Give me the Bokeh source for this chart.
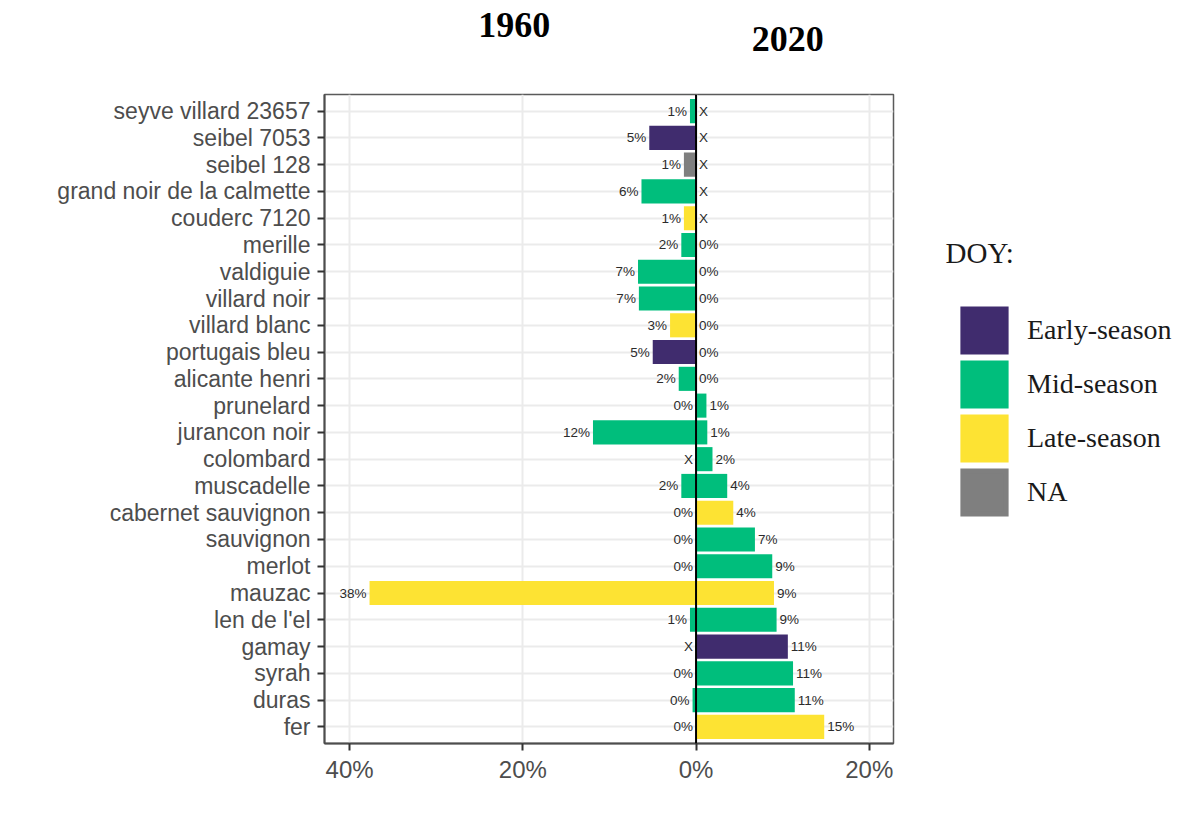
from bokeh.plotting import figure
from bokeh.layouts import column, row
from bokeh.models import (ColumnDataSource, FactorRange, Range1d, FixedTicker, Span,
                          CustomJSTickFormatter)
from bokeh.embed import file_html
from bokeh.resources import INLINE
from bokeh.core.properties import value

# ---------------- data ----------------
varieties = ["seyve villard 23657", "seibel 7053", "seibel 128", "grand noir de la calmette",
             "couderc 7120", "merille", "valdiguie", "villard noir", "villard blanc",
             "portugais bleu", "alicante henri", "prunelard", "jurancon noir", "colombard",
             "muscadelle", "cabernet sauvignon", "sauvignon", "merlot", "mauzac",
             "len de l'el", "gamay", "syrah", "duras", "fer"]
doy = ["Mid-season", "Early-season", "NA", "Mid-season", "Late-season", "Mid-season",
       "Mid-season", "Mid-season", "Late-season", "Early-season", "Mid-season", "Mid-season",
       "Mid-season", "Mid-season", "Mid-season", "Late-season", "Mid-season", "Mid-season",
       "Late-season", "Mid-season", "Early-season", "Mid-season", "Mid-season", "Late-season"]
share_1960 = [0.7, 5.4, 1.4, 6.3, 1.4, 1.7, 6.7, 6.6, 3.0, 5.0, 2.0, 0.0, 11.9, None,
              1.7, 0.0, 0.0, 0.0, 37.7, 0.7, None, 0.0, 0.4, 0.0]
share_2020 = [None, None, None, None, None, 0.0, 0.0, 0.0, 0.0, 0.0, 0.0, 1.2, 1.3, 1.9,
              3.6, 4.3, 6.8, 8.8, 9.0, 9.3, 10.6, 11.2, 11.4, 14.8]
doy_classes = ["Early-season", "Mid-season", "Late-season", "NA"]
doy_colors = ["#402C6E", "#00BE7C", "#FDE333", "#7F7F7F"]
x_ticks = [-40, -20, 0, 20]
years = ["1960", "2020"]
year_x = [-21.0, 10.6]          # centre of each year heading, in axis units

# ---------------- derived columns ----------------
nan = float("nan")
cmap = dict(zip(doy_classes, doy_colors))
src = ColumnDataSource(dict(
    variety=varieties,
    doy=doy,
    color=[cmap[d] for d in doy],
    left60=[-v if v is not None else nan for v in share_1960],
    right20=[v if v is not None else nan for v in share_2020],
    lab60=[f"{round(v)}%" if v is not None else "X" for v in share_1960],
    lab20=[f"{round(v)}%" if v is not None else "X" for v in share_2020],
    lx60=[-v if v is not None else 0.0 for v in share_1960],
    lx20=[v if v is not None else 0.0 for v in share_2020],
))

FL, FW, FH = 324, 569, 649      # frame left, width, height
TOP_H = 92
BT, BB = 2, 60
P_H = BT + FH + BB
TOTAL_W = 1174

# ---------------- main panel ----------------
p = figure(y_range=FactorRange(factors=varieties[::-1], range_padding=0.12,
                               range_padding_units="absolute"),
           x_range=Range1d(-42.9, 22.8),
           width=FL + FW + 2, height=P_H, min_border=0,
           min_border_left=FL, min_border_right=2, min_border_top=BT, min_border_bottom=BB,
           output_backend="svg", toolbar_location=None)

bars60 = p.hbar(y="variety", left="left60", right=0, height=0.9, fill_color="color",
                line_color=None, source=src)
p.hbar(y="variety", left=0, right="right20", height=0.9, fill_color="color",
       line_color=None, source=src)

p.add_layout(Span(location=0, dimension="height", line_color="black", line_width=2))

p.text(x="lx60", y="variety", text="lab60", source=src, text_align="right",
       text_baseline="middle", x_offset=-3, text_font=value("Liberation Sans"),
       text_font_size="13.5px", text_color="#2B2B2B")
p.text(x="lx20", y="variety", text="lab20", source=src, text_align="left",
       text_baseline="middle", x_offset=3, text_font=value("Liberation Sans"),
       text_font_size="13.5px", text_color="#2B2B2B")

p.xaxis.ticker = FixedTicker(ticks=x_ticks)
p.xaxis.formatter = CustomJSTickFormatter(code="return Math.abs(tick) + '%';")
p.xgrid.ticker = FixedTicker(ticks=x_ticks)
for ax in (p.xaxis, p.yaxis):
    ax.major_label_text_font = "Liberation Sans"
    ax.major_label_text_color = "#4D4D4D"
    ax.axis_line_color = "#4D4D4D"
    ax.axis_line_width = 2
    ax.major_tick_line_color = "#333333"
    ax.major_tick_line_width = 2
    ax.major_tick_out = 7
    ax.major_tick_in = 0
    ax.minor_tick_line_color = None
p.yaxis.major_label_text_font_size = "23px"
p.xaxis.major_label_text_font_size = "24px"
p.yaxis.major_label_standoff = 7
p.xaxis.major_label_standoff = 5
p.xgrid.grid_line_color = "#EBEBEB"
p.ygrid.grid_line_color = "#EBEBEB"
p.xgrid.grid_line_width = 2
p.ygrid.grid_line_width = 2
p.outline_line_color = "#5A5A5A"
p.outline_line_width = 1.5

# ---------------- year headings (share x axis with the panel) ----------------
t = figure(x_range=p.x_range, y_range=Range1d(0, TOP_H),
           width=TOTAL_W, height=TOP_H, min_border=0,
           min_border_left=FL, min_border_right=TOTAL_W - FL - FW,
           x_axis_location=None, y_axis_location=None,
           output_backend="svg", toolbar_location=None)
t.grid.visible = False
t.outline_line_color = None
t.text(x=year_x, y=[68, 54], text=years, text_align="center",
       text_baseline="alphabetic", text_font=value("Liberation Serif"),
       text_font_style="bold", text_font_size="36px", text_color="black")

# ---------------- legend area (frame aligned with the panel frame) ----------------
Q_W = TOTAL_W - (FL + FW + 2)
q = figure(x_range=Range1d(0, Q_W), y_range=Range1d(0, FH),
           width=Q_W, height=P_H, min_border=0, min_border_top=BT, min_border_bottom=BB,
           x_axis_location=None, y_axis_location=None,
           output_backend="svg", toolbar_location=None)
q.grid.visible = False
q.outline_line_color = None
q.text(x=[50], y=[491], text=["DOY:"], text_align="left",
       text_baseline="alphabetic", text_font=value("Liberation Serif"),
       text_font_size="29px", text_color="#1A1A1A")
leg_src = ColumnDataSource(dict(doy=doy_classes, color=doy_colors,
                                x=[nan] * len(doy_classes), y=[nan] * len(doy_classes)))
q.rect(x="x", y="y", width=1, height=1, fill_color="color", line_color="color",
       line_width=5, line_join="miter", source=leg_src, legend_field="doy")
leg = q.legend[0]
leg.location = (62, 224)
leg.glyph_width = 54
leg.glyph_height = 54
leg.spacing = 0
leg.label_standoff = 16
leg.padding = 0
leg.margin = 0
leg.label_text_font = "Liberation Serif"
leg.label_text_font_size = "28px"
leg.label_text_color = "#1A1A1A"
leg.background_fill_alpha = 0
leg.border_line_alpha = 0

layout = column(t, row(p, q, spacing=0), spacing=0)
open("out.html", "w").write(file_html(layout, INLINE))
